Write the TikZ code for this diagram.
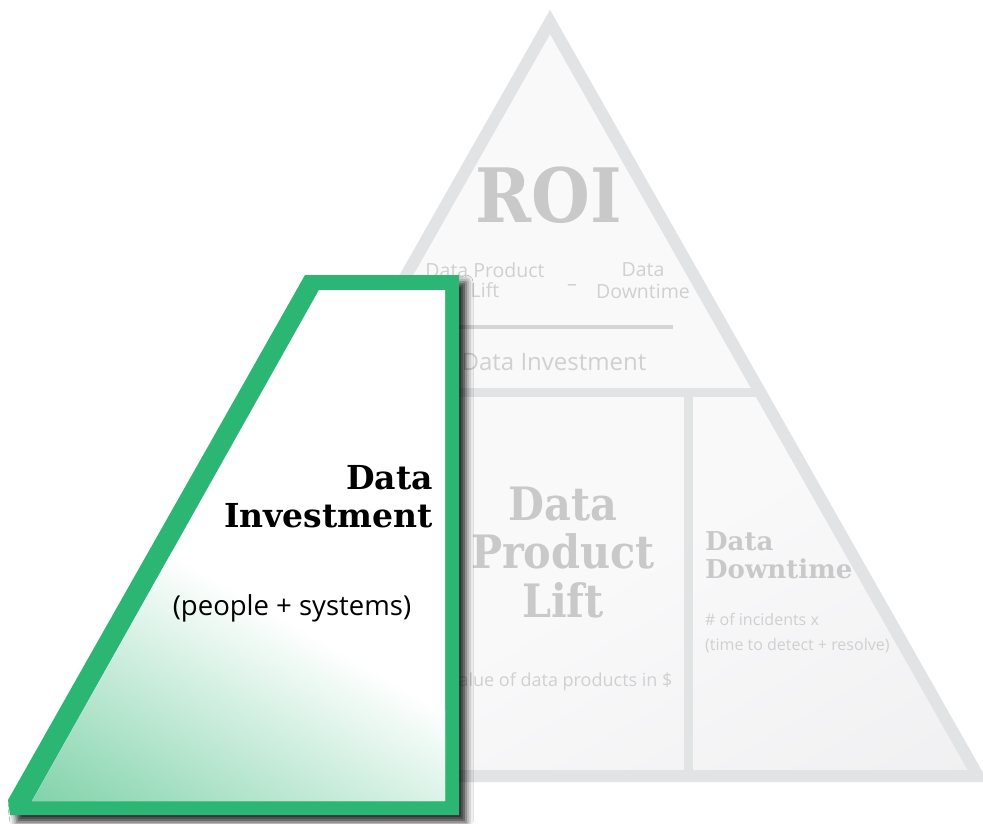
\documentclass[tikz,border=0pt]{standalone}
\usepackage{fontspec}
\usetikzlibrary{shadows.blur}
\newfontfamily\slabfont{DejaVu Serif}[FakeStretch=0.9]
\newfontfamily\slabwide{DejaVu Serif}
\newfontfamily\plainsans{Open Sans}
\definecolor{frame}{HTML}{E2E3E5}
\definecolor{pyrfill}{HTML}{F9F9FA}
\definecolor{pyrshade}{HTML}{EDEDEF}
\definecolor{fadedtitle}{HTML}{C9C9C9}
\definecolor{fadedtext}{HTML}{D0D0D0}
\definecolor{fracline}{HTML}{D5D5D5}
\definecolor{invgreen}{HTML}{2BB673}
\definecolor{invcorner}{HTML}{58C48F}
\tikzset{
  framebar/.style={draw=frame, line width=9pt},
  bigslab/.style={font=\slabfont\bfseries\fontsize{46}{50}\selectfont, text=fadedtitle, inner sep=0pt, anchor=base},
  midslab/.style={font=\slabwide\bfseries\fontsize{26}{30}\selectfont, text=fadedtitle, inner sep=0pt, anchor=base west},
  smallgray/.style={font=\plainsans\fontsize{19.5}{22}\selectfont, text=fadedtext, inner sep=0pt, anchor=base},
  notegray/.style={font=\plainsans\fontsize{16}{19}\selectfont, text=fadedtext, inner sep=0pt, anchor=base west},
  boxtitle/.style={font=\slabwide\bfseries\fontsize{33}{38}\selectfont, text=black, inner sep=0pt, anchor=base east},
}
\begin{document}
\begin{tikzpicture}[x=1pt,y=-1pt]
\useasboundingbox (0,0) rectangle (983,823);
\fill[white] (0,0) rectangle (983,823);

% ---------- the ROI pyramid ----------
\coordinate (apex) at (550,22);
\coordinate (br) at (978,776);
\coordinate (bl) at (122,776);
\fill[pyrfill] (apex) -- (br) -- (bl) -- cycle;
\begin{scope}
  \clip (apex) -- (br) -- (bl) -- cycle;
  \begin{scope}[transform canvas={shift={(br)}, rotate=30}]
    \shade[bottom color=pyrshade, top color=pyrfill] (-900,120) rectangle (900,-360);
  \end{scope}
\end{scope}
\draw[frame, line width=12pt, line join=miter] (apex) -- (br) -- (bl) -- cycle;
\coordinate (dl) at (340,392);
\coordinate (dr) at (760,392);
\draw[framebar] (dl) -- (dr);
\coordinate (vt) at (688,392);
\coordinate (vb) at (688,776);
\draw[framebar] (vt) -- (vb);

% top section: ROI formula
\node[font=\slabfont\bfseries\fontsize{75}{80}\selectfont, text=fadedtitle, inner sep=0pt, anchor=base] (roi) at (549,222) {ROI};
\node[smallgray] (liftA) at (485,277) {Data Product};
\node[smallgray] (liftB) at (485,297) {Lift};
\node[smallgray] (minus) at (572,290) {–};
\node[smallgray] (downA) at (643,276) {Data};
\node[smallgray] (downB) at (643,298) {Downtime};
\coordinate (fl) at (420,327);
\coordinate (fr) at (673,327);
\draw[draw=fracline, line width=4.5pt] (fl) -- (fr);
\node[font=\plainsans\fontsize{24}{28}\selectfont, text=fadedtext, inner sep=0pt, anchor=base] (invest) at (554,370) {Data Investment};

% lower left section
\node[bigslab] (dplA) at (563,520) {Data};
\node[bigslab] (dplB) at (563,568) {Product};
\node[bigslab] (dplC) at (563,617) {Lift};
\node[font=\plainsans\fontsize{18}{21}\selectfont, text=fadedtext, inner sep=0pt, anchor=base] (value) at (561,686) {value of data products in \$};

% lower right section
\node[midslab] (ddA) at (705,550) {Data};
\node[midslab] (ddB) at (705,578) {Downtime};
\node[notegray] (ddC) at (705,625) {\# of incidents x};
\node[notegray] (ddD) at (705,650) {(time to detect + resolve)};

% ---------- highlighted investment block ----------
\coordinate (g1) at (305,275);
\coordinate (g2) at (459,275);
\coordinate (g3) at (459,815);
\coordinate (g4) at (10,815);
\coordinate (g5) at (8,800);
\coordinate (i1) at (319,290);
\coordinate (i2) at (445,290);
\coordinate (i3) at (445,801);
\coordinate (i4) at (32,801);

\path[blur shadow={shadow xshift=7pt, shadow yshift=-7pt, shadow blur radius=7pt, shadow opacity=85}]
  (g1) -- (g2) -- (g3) -- (g4) -- (g5) -- cycle;
\fill[invgreen] (g1) -- (g2) -- (g3) -- (g4) -- (g5) -- cycle;
\fill[white] (i1) -- (i2) -- (i3) -- (i4) -- cycle;
\begin{scope}
  \clip (i1) -- (i2) -- (i3) -- (i4) -- cycle;
  \begin{scope}[transform canvas={shift={(i4)}, rotate=-30}]
    \shade[bottom color=invcorner, top color=white] (-700,95) rectangle (700,-285);
  \end{scope}
\end{scope}

\node[boxtitle] (boxA) at (433,489) {Data};
\node[boxtitle] (boxB) at (433,527) {Investment};
\node[font=\plainsans\fontsize{27.5}{32}\selectfont, text=black, inner sep=0pt, anchor=base] (boxC) at (292,615) {(people + systems)};
\end{tikzpicture}
\end{document}
